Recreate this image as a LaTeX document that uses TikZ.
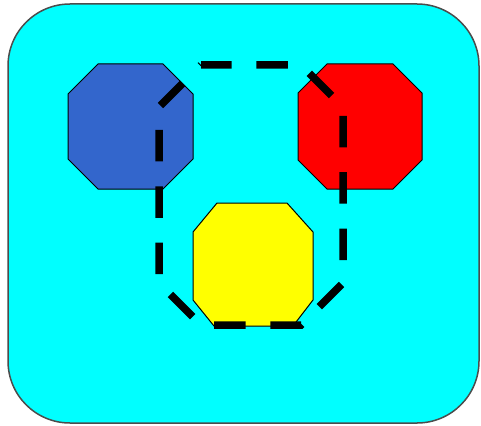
\documentclass[tikz,border=0pt]{standalone}
\usepackage{tikz}
\usepackage{xcolor}

\definecolor{panelcyan}{RGB}{0,255,255}
\definecolor{octblue}{RGB}{51,102,204}
\definecolor{octred}{RGB}{255,0,0}
\definecolor{octyellow}{RGB}{255,255,0}

\begin{document}
\begin{tikzpicture}[x=1pt,y=-1pt,
  octa/.style={draw=black,line width=1pt,fill=#1},
  hull/.style={draw=black,line width=7.5pt,dash pattern=on 31.5pt off 24.9pt,dash phase=1pt}]
\useasboundingbox (0,0) rectangle (481,425);
% background panel
\draw[fill=panelcyan,draw=black!70,line width=1.5pt,rounded corners=62pt] (8,4) rectangle (479,423);
% the three octagons
\draw[octa=octblue] (68,94) -- (98,64) -- (163,64) -- (193,94) -- (193,159) -- (163,189) -- (98,189) -- (68,159) -- cycle;
\draw[octa=octred] (298,93) -- (327,64) -- (393,64) -- (422,93) -- (422,160) -- (393,189) -- (327,189) -- (298,160) -- cycle;
\draw[octa=octyellow] (193,232) -- (217,203) -- (287,203) -- (313,232) -- (313,300) -- (293,326) -- (214,326) -- (193,300) -- cycle;
% dashed outline round them
\draw[hull] (201,65) -- (301,65) -- (343,107) -- (343,283) -- (301,325) -- (201,325) -- (159,283) -- (159,107) -- cycle;
\end{tikzpicture}
\end{document}
